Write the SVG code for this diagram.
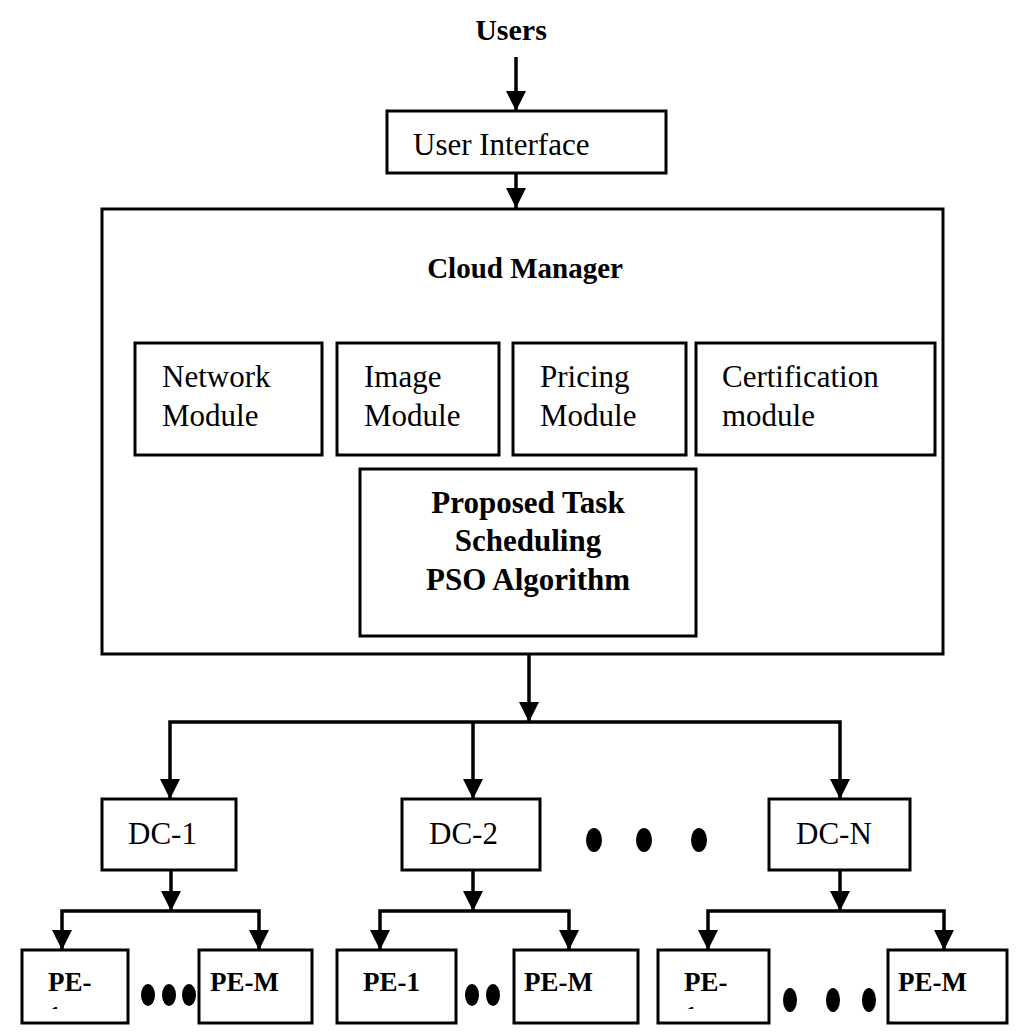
<svg xmlns="http://www.w3.org/2000/svg" width="1018" height="1035" viewBox="0 0 1018 1035">
<style>
.box{fill:#fff;stroke:#000;stroke-width:3}
.t{font-family:"Liberation Serif","Times New Roman",serif;font-size:31px;fill:#000}
.b{font-family:"Liberation Serif","Times New Roman",serif;font-weight:bold;fill:#000}
.ln{fill:none;stroke:#000;stroke-width:3.5}
.dot{fill:#000}
</style>
<defs>
<marker id="ah" viewBox="0 0 20 20" refX="20" refY="10" markerWidth="20" markerHeight="20" markerUnits="userSpaceOnUse" orient="auto">
<path d="M0,0 L20,10 L0,20 z" fill="#000"/>
</marker>
<clipPath id="c1"><rect x="0" y="940" width="1018" height="69"/></clipPath>
</defs>
<rect width="1018" height="1035" fill="#fff"/>

<g id="users"><text class="b" x="511" y="40" font-size="30" text-anchor="middle">Users</text></g>
<g id="ui"><rect class="box" x="387" y="111" width="279" height="62"/><text class="t" x="413" y="155" font-size="32">User Interface</text></g>
<g id="cloud-manager"><rect class="box" x="102" y="209" width="841" height="445"/><text class="b" x="525" y="278" font-size="29" text-anchor="middle">Cloud Manager</text></g>
<g id="network"><rect class="box" x="135" y="343" width="187" height="112"/><text class="t" x="162" y="387">Network</text><text class="t" x="162" y="426">Module</text></g>
<g id="image"><rect class="box" x="337" y="343" width="162" height="112"/><text class="t" x="364" y="387">Image</text><text class="t" x="364" y="426">Module</text></g>
<g id="pricing"><rect class="box" x="513" y="343" width="173" height="112"/><text class="t" x="540" y="387">Pricing</text><text class="t" x="540" y="426">Module</text></g>
<g id="certification"><rect class="box" x="696" y="343" width="239" height="112"/><text class="t" x="722" y="387">Certification</text><text class="t" x="722" y="426">module</text></g>
<g id="pso"><rect class="box" x="360" y="469" width="336" height="167"/>
<text class="b" font-size="31" text-anchor="middle"><tspan x="528" y="513">Proposed Task</tspan><tspan x="528" y="551">Scheduling</tspan><tspan x="528" y="590">PSO Algorithm</tspan></text></g>

<g id="dc1"><rect class="box" x="102" y="799" width="134" height="71"/><text class="t" x="128" y="844">DC-1</text></g>
<g id="dc2"><rect class="box" x="402" y="799" width="138" height="71"/><text class="t" x="429" y="844">DC-2</text></g>
<g id="dcn"><rect class="box" x="769" y="799" width="141" height="71"/><text class="t" x="796" y="844">DC-N</text></g>
<g id="dc-dots"><ellipse class="dot" cx="594" cy="840" rx="8" ry="12"/><ellipse class="dot" cx="644" cy="840" rx="8" ry="12"/><ellipse class="dot" cx="699" cy="840" rx="8" ry="12"/></g>

<g id="pe1-1"><rect class="box" x="22" y="950" width="106" height="73"/><text class="b" x="48" y="991" font-size="27">PE-</text><text class="b" x="48" y="1025" font-size="27" clip-path="url(#c1)">1</text></g>
<g id="pem-1"><rect class="box" x="199" y="950" width="113" height="73"/><text class="b" x="210" y="991" font-size="27">PE-M</text></g>
<g id="pe-dots-1"><ellipse class="dot" cx="148" cy="995" rx="7" ry="11"/><ellipse class="dot" cx="169" cy="995" rx="7" ry="11"/><ellipse class="dot" cx="189" cy="995" rx="7" ry="11"/></g>

<g id="pe1-2"><rect class="box" x="337" y="950" width="119" height="73"/><text class="b" x="363" y="991" font-size="27">PE-1</text></g>
<g id="pem-2"><rect class="box" x="514" y="950" width="124" height="73"/><text class="b" x="524" y="991" font-size="27">PE-M</text></g>
<g id="pe-dots-2"><ellipse class="dot" cx="472" cy="995" rx="7" ry="11"/><ellipse class="dot" cx="493" cy="995" rx="7" ry="11"/></g>

<g id="pe1-n"><rect class="box" x="658" y="950" width="111" height="73"/><text class="b" x="684" y="991" font-size="27">PE-</text><text class="b" x="684" y="1025" font-size="27" clip-path="url(#c1)">1</text></g>
<g id="pem-n"><rect class="box" x="888" y="950" width="119" height="73"/><text class="b" x="898" y="991" font-size="27">PE-M</text></g>
<g id="pe-dots-n"><ellipse class="dot" cx="790" cy="1000" rx="7" ry="12"/><ellipse class="dot" cx="833" cy="1000" rx="7" ry="12"/><ellipse class="dot" cx="869" cy="1000" rx="7" ry="12"/></g>

<g id="connectors">
<path class="ln" d="M516,57 V111" marker-end="url(#ah)"/>
<path class="ln" d="M516,173 V208" marker-end="url(#ah)"/>
<path class="ln" d="M529,655 V722" marker-end="url(#ah)"/>
<path class="ln" d="M529,722 H170 V799" marker-end="url(#ah)"/>
<path class="ln" d="M473,722 V799" marker-end="url(#ah)"/>
<path class="ln" d="M529,722 H840 V799" marker-end="url(#ah)"/>
<path class="ln" d="M171,871 V911" marker-end="url(#ah)"/>
<path class="ln" d="M171,911 H62 V950" marker-end="url(#ah)"/>
<path class="ln" d="M171,911 H259 V950" marker-end="url(#ah)"/>
<path class="ln" d="M473,871 V911" marker-end="url(#ah)"/>
<path class="ln" d="M473,911 H380 V950" marker-end="url(#ah)"/>
<path class="ln" d="M473,911 H569 V950" marker-end="url(#ah)"/>
<path class="ln" d="M840,871 V911" marker-end="url(#ah)"/>
<path class="ln" d="M840,911 H708 V950" marker-end="url(#ah)"/>
<path class="ln" d="M840,911 H944 V950" marker-end="url(#ah)"/>
</g>
</svg>
